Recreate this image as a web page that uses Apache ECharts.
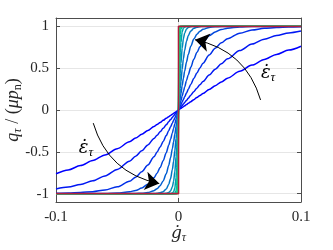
<!DOCTYPE html>
<html>
<head>
<meta charset="utf-8">
<script src="https://cdn.jsdelivr.net/npm/echarts@6/dist/echarts.min.js"></script>
<style>
  html, body { margin: 0; padding: 0; background: #fff; }
  #chart { width: 333px; height: 250px; }
</style>
</head>
<body>
<div id="chart"></div>
<script>
// slip-rate samples (x >= 0); the picture is point-symmetric about the origin
const slipRate = [0, 0.0003, 0.0006, 0.001, 0.0015, 0.002, 0.003, 0.004, 0.005, 0.0065, 0.008,
  0.01, 0.0125, 0.015, 0.0175, 0.02, 0.025, 0.03, 0.035, 0.04, 0.05, 0.06, 0.07, 0.08, 0.09, 0.1];

// q_tau/(mu p_n), from the flattest (blue) to the steepest (green)
const curve1 = [0, 0.003, 0.006, 0.01, 0.015, 0.02, 0.03, 0.04, 0.05, 0.065, 0.08,
  0.1, 0.124, 0.149, 0.173, 0.197, 0.245, 0.291, 0.336, 0.38, 0.462, 0.537, 0.604, 0.664, 0.716, 0.762];
const curve2 = [0, 0.005, 0.011, 0.018, 0.027, 0.036, 0.053, 0.071, 0.089, 0.115, 0.141,
  0.176, 0.219, 0.261, 0.302, 0.341, 0.417, 0.488, 0.553, 0.612, 0.711, 0.788, 0.847, 0.89, 0.922, 0.944];
const curve3 = [0, 0.009, 0.019, 0.032, 0.047, 0.063, 0.095, 0.126, 0.157, 0.203, 0.248,
  0.306, 0.376, 0.442, 0.503, 0.56, 0.658, 0.739, 0.803, 0.852, 0.919, 0.956, 0.976, 0.987, 0.993, 0.996];
const curve4 = [0, 0.017, 0.034, 0.056, 0.084, 0.112, 0.167, 0.221, 0.274, 0.35, 0.422,
  0.51, 0.606, 0.688, 0.755, 0.81, 0.887, 0.934, 0.962, 0.978, 0.993, 0.998, 0.999, 1, 1, 1];
const curve5 = [0, 0.03, 0.06, 0.1, 0.149, 0.197, 0.291, 0.38, 0.462, 0.572, 0.664,
  0.762, 0.848, 0.905, 0.941, 0.964, 0.987, 0.995, 0.998, 0.999, 1, 1, 1, 1, 1, 1];
const curve6 = [0, 0.053, 0.106, 0.176, 0.261, 0.341, 0.488, 0.612, 0.711, 0.82, 0.89,
  0.944, 0.977, 0.99, 0.996, 0.998, 1, 1, 1, 1, 1, 1, 1, 1, 1, 1];
const curve7 = [0, 0.095, 0.187, 0.306, 0.442, 0.56, 0.739, 0.852, 0.919, 0.967, 0.987,
  0.996, 0.999, 1, 1, 1, 1, 1, 1, 1, 1, 1, 1, 1, 1, 1];
const curve8 = [0, 0.167, 0.325, 0.51, 0.688, 0.81, 0.934, 0.978, 0.993, 0.999, 1,
  1, 1, 1, 1, 1, 1, 1, 1, 1, 1, 1, 1, 1, 1, 1];
const curve9 = [0, 0.291, 0.537, 0.762, 0.905, 0.964, 0.995, 0.999, 1, 1, 1,
  1, 1, 1, 1, 1, 1, 1, 1, 1, 1, 1, 1, 1, 1, 1];
const curve10 = [0, 0.488, 0.788, 0.944, 0.99, 0.998, 1, 1, 1, 1, 1,
  1, 1, 1, 1, 1, 1, 1, 1, 1, 1, 1, 1, 1, 1, 1];
const curve11 = [0, 0.739, 0.956, 0.996, 1, 1, 1, 1, 1, 1, 1,
  1, 1, 1, 1, 1, 1, 1, 1, 1, 1, 1, 1, 1, 1, 1];
const curve12 = [0, 0.934, 0.998, 1, 1, 1, 1, 1, 1, 1, 1,
  1, 1, 1, 1, 1, 1, 1, 1, 1, 1, 1, 1, 1, 1, 1];

// ideal Coulomb step
const stepX = [-0.1, 0, 0, 0.1];
const stepY = [-1, -1, 1, 1];

const xTicks = [-0.1, 0, 0.1];
const yTicks = [-1, -0.5, 0, 0.5, 1];

// arrow annotations (data coords): [start, end]
const arrowUp = [[0.067, 0.12], [0.0135, 0.84]];
const arrowDown = [[-0.0696, -0.157], [-0.0157, -0.88]];
const labelUp = [0.0731, 0.437];
const labelDown = [-0.0755, -0.46];

const curves = [curve1, curve2, curve3, curve4, curve5, curve6, curve7, curve8, curve9, curve10, curve11, curve12];

const serif = "'Liberation Serif', 'DejaVu Serif', serif";
const axisColor = '#4d4d4d';
const textColor = '#262626';

function buildPoints(ys) {
  const pts = [];
  for (let i = slipRate.length - 1; i > 0; i--) pts.push([-slipRate[i], -ys[i]]);
  for (let i = 0; i < slipRate.length; i++) pts.push([slipRate[i], ys[i]]);
  return pts;
}

// MATLAB "winter" colormap
function winter(i, n) {
  const t = n > 1 ? i / (n - 1) : 0;
  return `rgb(0,${Math.round(255 * t)},${Math.round(255 - 127.5 * t)})`;
}

const mathRich = {
  i: { fontFamily: serif, fontStyle: 'italic', fontSize: 18, color: textColor },
  d: { fontFamily: "'DejaVu Serif', serif", fontStyle: 'italic', fontSize: 17, color: textColor },
  s: { fontFamily: serif, fontStyle: 'italic', fontSize: 12, color: textColor, padding: [9, 0, 0, 0] },
  n: { fontFamily: serif, fontSize: 12, color: textColor, padding: [9, 0, 0, 0] },
  r: { fontFamily: serif, fontSize: 18, color: textColor },
};

const chart = echarts.init(document.getElementById('chart'), null, { renderer: 'canvas' });

const curveSeries = curves.map((ys, i) => ({
  type: 'line',
  data: buildPoints(ys),
  showSymbol: false,
  symbol: 'none',
  smooth: 0.3,
  smoothMonotone: 'x',
  lineStyle: { width: 1.5, color: winter(i, curves.length) },
  z: 2 + i * 0.01,
  silent: true,
}));

const annoLabel = {
  show: true,
  position: 'inside',
  formatter: '{e|ε\u0307}{s|τ}',
  rich: {
    e: { fontFamily: "'DejaVu Serif', serif", fontStyle: 'italic', fontSize: 18, color: '#000' },
    s: { fontFamily: serif, fontStyle: 'italic', fontSize: 13, color: '#000', padding: [9, 0, 0, 0] },
  },
};

chart.setOption({
  animation: false,
  backgroundColor: '#fff',
  grid: { left: 56, right: 32, top: 18, bottom: 48, containLabel: false, outerBoundsMode: 'none' },
  xAxis: [
    {
      type: 'value',
      min: -0.1,
      max: 0.1,
      interval: 0.1,
      position: 'bottom',
      name: '{d|ġ}{s|τ}',
      nameLocation: 'middle',
      nameGap: 21,
      nameMoveOverlap: false,
      nameTextStyle: { rich: mathRich },
      axisLine: { show: true, onZero: false, lineStyle: { color: axisColor, width: 1 } },
      axisTick: { show: true, inside: true, length: 4, lineStyle: { color: axisColor } },
      axisLabel: {
        margin: 8, fontFamily: serif, fontSize: 15, color: textColor,
        customValues: xTicks,
      },
      splitLine: { show: true, lineStyle: { color: '#e6e6e6', width: 1 } },
    },
    {
      type: 'value',
      min: -0.1,
      max: 0.1,
      interval: 0.1,
      position: 'top',
      axisLine: { show: true, onZero: false, lineStyle: { color: axisColor, width: 1 } },
      axisTick: { show: true, inside: true, length: 4, lineStyle: { color: axisColor } },
      axisLabel: { show: false },
      splitLine: { show: false },
    },
  ],
  yAxis: [
    {
      type: 'value',
      min: -1.1,
      max: 1.1,
      position: 'left',
      name: '{i|q}{s|τ}{r| / (}{i|μp}{n|n}{r|)}',
      nameLocation: 'middle',
      nameRotate: 90,
      nameGap: 32,
      nameMoveOverlap: false,
      nameTextStyle: { rich: mathRich },
      axisLine: { show: true, onZero: false, lineStyle: { color: axisColor, width: 1 } },
      axisTick: { show: true, inside: true, length: 4, lineStyle: { color: axisColor }, customValues: yTicks },
      axisLabel: {
        margin: 7, fontFamily: serif, fontSize: 15, color: textColor,
        customValues: yTicks,
      },
      splitLine: { show: true, lineStyle: { color: '#e6e6e6', width: 1 } },
    },
    {
      type: 'value',
      min: -1.1,
      max: 1.1,
      position: 'right',
      axisLine: { show: true, onZero: false, lineStyle: { color: axisColor, width: 1 } },
      axisTick: { show: true, inside: true, length: 4, lineStyle: { color: axisColor }, customValues: yTicks },
      axisLabel: { show: false },
      splitLine: { show: false },
    },
  ],
  series: [
    ...curveSeries,
    {
      type: 'line',
      data: stepX.map((x, i) => [x, stepY[i]]),
      showSymbol: false,
      symbol: 'none',
      lineStyle: { width: 1.6, color: '#b01e3c' },
      z: 3,
      silent: true,
    },
    {
      type: 'lines',
      coordinateSystem: 'cartesian2d',
      z: 4,
      silent: true,
      symbol: ['none', 'arrow'],
      symbolSize: 14,
      lineStyle: { color: '#000', width: 1, opacity: 1, curveness: -0.3 },
      data: [
        { coords: arrowUp },
        { coords: arrowDown },
      ],
    },
    {
      type: 'scatter',
      data: [],
      z: 4,
      silent: true,
      markPoint: {
        silent: true,
        animation: false,
        symbol: 'circle',
        symbolSize: 0,
        label: annoLabel,
        data: [{ coord: labelUp }, { coord: labelDown }],
      },
    },
  ],
});
</script>
</body>
</html>
